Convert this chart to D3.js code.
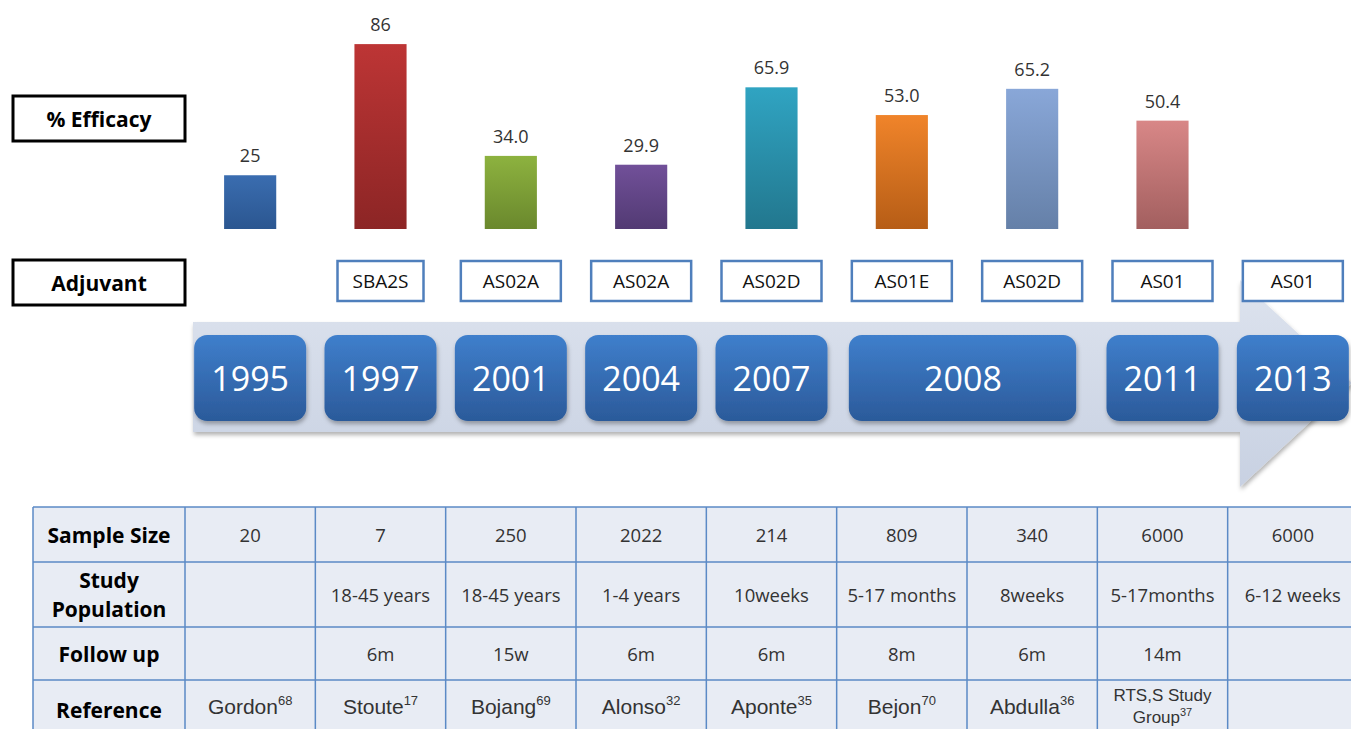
<!DOCTYPE html>
<html>
<head>
<meta charset="utf-8">
<script src="https://cdn.jsdelivr.net/npm/d3@7"></script>
<style>
  body { margin: 0; background: #fff; }
  svg { display: block; }
</style>
</head>
<body>
<div id="chart"></div>
<script>
// data
const years = ["1995", "1997", "2001", "2004", "2007", "2008", "2008", "2011", "2013"];
const efficacyText = ["25", "86", "34.0", "29.9", "65.9", "53.0", "65.2", "50.4", ""];
const adjuvants = ["", "SBA2S", "AS02A", "AS02A", "AS02D", "AS01E", "AS02D", "AS01", "AS01"];
const sampleSize = ["20", "7", "250", "2022", "214", "809", "340", "6000", "6000"];
const population = ["", "18-45 years", "18-45 years", "1-4 years", "10weeks", "5-17 months", "8weeks", "5-17months", "6-12 weeks"];
const followUp = ["", "6m", "15w", "6m", "6m", "8m", "6m", "14m", ""];
const refNames = ["Gordon", "Stoute", "Bojang", "Alonso", "Aponte", "Bejon", "Abdulla", "RTS,S Study Group", ""];
const refNums = ["68", "17", "69", "32", "35", "70", "36", "37", ""];
const barColors = [
  ["#3a6db0", "#2b5690"], ["#bd3535", "#8c2525"], ["#8db23f", "#6a882d"], ["#715099", "#523a73"],
  ["#30a4c2", "#22778e"], ["#f0842a", "#b65d16"], ["#89a7d8", "#6580a8"], ["#d88787", "#a25f5f"]
];

const W = 1351, H = 729;
const svg = d3.select("#chart").append("svg").attr("width", W).attr("height", H);
const defs = svg.append("defs");

const idx = d3.range(years.length);
const x = d3.scaleBand().domain(idx).range([185, 1358]).paddingInner(0.6).paddingOuter(0.3);
const step = x.step();
const cx = i => x(i) + x.bandwidth() / 2;
const y = d3.scaleLinear().domain([0, 100]).range([229, 229 - 215]);

// gradients
barColors.forEach((c, i) => {
  const g = defs.append("linearGradient").attr("id", "bar" + i).attr("x1", 0).attr("y1", 0).attr("x2", 0).attr("y2", 1);
  g.append("stop").attr("offset", "0%").attr("stop-color", c[0]);
  g.append("stop").attr("offset", "100%").attr("stop-color", c[1]);
});
const yg = defs.append("linearGradient").attr("id", "yearGrad").attr("x1", 0).attr("y1", 0).attr("x2", 0).attr("y2", 1);
yg.append("stop").attr("offset", "0%").attr("stop-color", "#3f7fcc");
yg.append("stop").attr("offset", "100%").attr("stop-color", "#2b5a9a");
const ag = defs.append("linearGradient").attr("id", "arrowGrad").attr("x1", 0).attr("y1", 0).attr("x2", 0).attr("y2", 1);
ag.append("stop").attr("offset", "0%").attr("stop-color", "#dde3ee");
ag.append("stop").attr("offset", "100%").attr("stop-color", "#c8d1e2");
const sh = defs.append("filter").attr("id", "shadow").attr("x", "-10%").attr("y", "-10%").attr("width", "130%").attr("height", "140%");
sh.append("feDropShadow").attr("dx", 1).attr("dy", 3).attr("stdDeviation", 2).attr("flood-color", "#000").attr("flood-opacity", 0.3);

// label boxes on the left
function sideLabel(text, y0) {
  svg.append("rect").attr("x", 13).attr("y", y0).attr("width", 172).attr("height", 45)
    .attr("fill", "#fff").attr("stroke", "#000").attr("stroke-width", 3);
  svg.append("text").attr("x", 99).attr("y", y0 + 23).attr("text-anchor", "middle")
    .attr("dominant-baseline", "central").style("font", "bold 21px 'Open Sans'").attr("fill", "#000").text(text);
}
sideLabel("% Efficacy", 96);
sideLabel("Adjuvant", 260);

// bars
const barData = idx.filter(i => efficacyText[i] !== "");
svg.selectAll(".bar").data(barData).join("rect").attr("class", "bar")
  .attr("x", i => x(i)).attr("width", x.bandwidth())
  .attr("y", i => y(+efficacyText[i])).attr("height", i => y(0) - y(+efficacyText[i]))
  .attr("fill", i => `url(#bar${i})`);
svg.selectAll(".val").data(barData).join("text").attr("class", "val")
  .attr("x", i => cx(i)).attr("y", i => y(+efficacyText[i]) - 13)
  .attr("text-anchor", "middle").style("font", "18px 'Open Sans'").attr("fill", "#333")
  .text(i => efficacyText[i]);

// adjuvant boxes
const adjData = idx.filter(i => adjuvants[i] !== "");
const adjW = i => adjuvants[i] === "SBA2S" ? 86 : 100;

// timeline arrow
svg.append("path")
  .attr("d", "M193,322 L1240,322 L1240,280 L1352,383 L1240,487 L1240,432 L193,432 Z")
  .attr("fill", "url(#arrowGrad)").attr("filter", "url(#shadow)");

svg.selectAll(".adj").data(adjData).join("rect").attr("class", "adj")
  .attr("x", i => cx(i) - adjW(i) / 2).attr("y", 261).attr("width", adjW).attr("height", 40)
  .attr("fill", "#fff").attr("stroke", "#4f7fbc").attr("stroke-width", 2.5);
svg.selectAll(".adjt").data(adjData).join("text").attr("class", "adjt")
  .attr("x", i => cx(i)).attr("y", 281).attr("dominant-baseline", "central")
  .attr("text-anchor", "middle").style("font", "19px 'Open Sans'").attr("fill", "#111")
  .text(i => adjuvants[i]);

// year boxes (same year studies share one box)
const yearGroups = [];
years.forEach((yr, i) => {
  const last = yearGroups[yearGroups.length - 1];
  if (last && last.year === yr) last.end = i;
  else yearGroups.push({ year: yr, start: i, end: i });
});
const yb = svg.selectAll(".yr").data(yearGroups).join("g").attr("class", "yr");
yb.append("rect")
  .attr("x", d => cx(d.start) - (d.end > d.start ? 53 : 56))
  .attr("width", d => d.end > d.start ? cx(d.end) - cx(d.start) + 97 : 112)
  .attr("y", 335).attr("height", 86).attr("rx", 13)
  .attr("fill", "url(#yearGrad)").attr("filter", "url(#shadow)");
yb.append("text")
  .attr("x", d => d.end > d.start ? (cx(d.start) + cx(d.end)) / 2 - 4 : cx(d.start))
  .attr("y", 378)
  .attr("text-anchor", "middle").attr("dominant-baseline", "central")
  .style("font", "34px 'Open Sans'").attr("fill", "#fff").text(d => d.year);

// table
const rowTops = [507, 562, 627, 680, 740];
const tLeft = 33, tRight = x.range()[1];
const table = svg.append("g");
table.append("rect").attr("x", tLeft).attr("y", rowTops[0]).attr("width", tRight - tLeft)
  .attr("height", rowTops[4] - rowTops[0]).attr("fill", "#e8ecf4");
rowTops.forEach(r => table.append("line").attr("x1", tLeft).attr("x2", tRight).attr("y1", r).attr("y2", r)
  .attr("stroke", "#5b8ac6").attr("stroke-width", 1.5));
const colEdges = [tLeft].concat(idx.map(i => x.range()[0] + i * step), [tRight]);
colEdges.forEach(c => table.append("line").attr("x1", c).attr("x2", c).attr("y1", rowTops[0]).attr("y2", rowTops[4])
  .attr("stroke", "#5b8ac6").attr("stroke-width", 1.5));

const rowLabels = [["Sample Size"], ["Study", "Population"], ["Follow up"], ["Reference"]];
rowLabels.forEach((lines, r) => {
  const mid = (rowTops[r] + rowTops[r + 1]) / 2;
  lines.forEach((t, k) => {
    table.append("text").attr("x", 109).attr("y", mid + (k - (lines.length - 1) / 2) * 29)
      .attr("text-anchor", "middle").attr("dominant-baseline", "central")
      .style("font", "bold 21px 'Open Sans'").attr("fill", "#000").text(t);
  });
});

[sampleSize, population, followUp].forEach((arr, r) => {
  const mid = (rowTops[r] + rowTops[r + 1]) / 2;
  table.selectAll(".c" + r).data(idx).join("text").attr("class", "c" + r)
    .attr("x", i => cx(i)).attr("y", mid).attr("text-anchor", "middle").attr("dominant-baseline", "central")
    .style("font", "18.5px 'Open Sans'").attr("fill", "#333").text(i => arr[i]);
});

// reference row with superscripts
idx.filter(i => refNames[i] !== "").forEach(i => {
  const long = refNames[i].length > 10;
  const t = table.append("text").attr("x", cx(i)).attr("text-anchor", "middle")
    .attr("fill", "#333").style("font-family", "'Liberation Sans', Arial");
  if (long) {
    const parts = ["RTS,S Study", "Group"];
    t.attr("y", 701).style("font-size", "17px");
    t.append("tspan").attr("x", cx(i)).text(parts[0]);
    t.append("tspan").attr("x", cx(i)).attr("dy", 22).text(parts[1]);
    t.append("tspan").attr("dy", -7).style("font-size", "11px").text(refNums[i]);
  } else {
    t.attr("y", 714).style("font-size", "21px");
    t.append("tspan").text(refNames[i]);
    t.append("tspan").attr("dy", -9).style("font-size", "13px").text(refNums[i]);
  }
});
</script>
</body>
</html>
